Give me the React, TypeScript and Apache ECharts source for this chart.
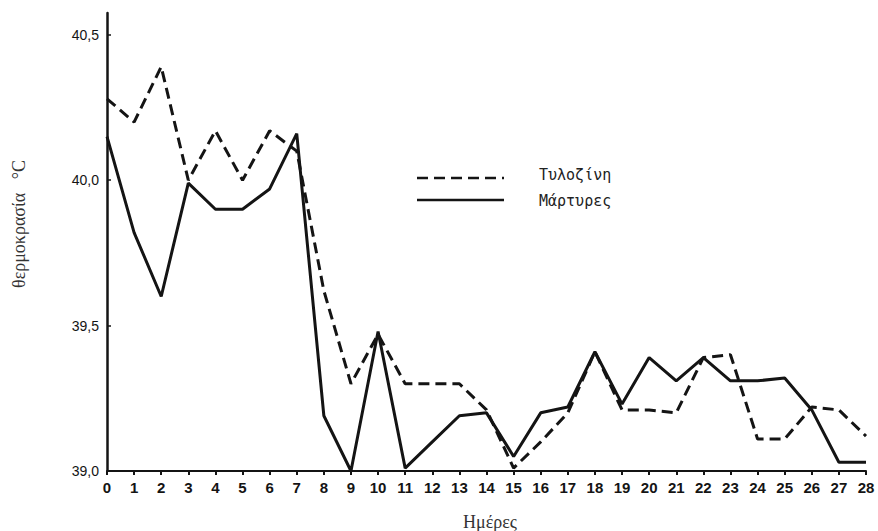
import React, { useEffect, useRef } from "react";
import * as echarts from "echarts";

const days = ["0","1","2","3","4","5","6","7","8","9","10","11","12","13","14","15","16","17","18","19","20","21","22","23","24","25","26","27","28"];
const tylosin = [40.28,40.2,40.39,40.0,40.17,40.0,40.17,40.1,39.62,39.3,39.47,39.3,39.3,39.3,39.21,39.01,39.1,39.2,39.41,39.21,39.21,39.2,39.39,39.4,39.11,39.11,39.22,39.21,39.12];
const control = [40.15,39.82,39.6,39.99,39.9,39.9,39.97,40.16,39.19,39.0,39.48,39.01,39.1,39.19,39.2,39.05,39.2,39.22,39.41,39.23,39.39,39.31,39.39,39.31,39.31,39.32,39.21,39.03,39.03];
const yTicks = [39.0, 39.5, 40.0, 40.5];
const legendNames = ["Τυλοζίνη", "Μάρτυρες"];
const xName = "Ημέρες";
const yName = "θερμοκρασία   °C";

export default function App() {
  const ref = useRef<HTMLDivElement>(null);
  useEffect(() => {
    const chart = echarts.init(ref.current!, null, { renderer: "svg" });
    const ink = "#141414";
    chart.setOption({
      animation: false,
      backgroundColor: "#fff",
      grid: { left: 107, right: 12, top: 13, bottom: 60 },
      xAxis: {
        type: "category",
        data: days,
        boundaryGap: false,
        axisLine: { lineStyle: { color: ink, width: 2 } },
        axisTick: { show: true, length: 4, lineStyle: { color: ink, width: 2 } },
        axisLabel: { color: ink, fontFamily: "Liberation Sans", fontWeight: "bold", fontSize: 15, margin: 9 },
        splitLine: { show: false },
      },
      yAxis: {
        type: "value",
        min: 39,
        max: 40.575,
        axisLine: { show: true, lineStyle: { color: ink, width: 2.5 } },
        axisTick: { show: true, inside: true, length: 4, customValues: yTicks, lineStyle: { color: ink, width: 1.5 } },
        axisLabel: {
          color: ink, fontFamily: "Liberation Sans", fontSize: 14, margin: 8,
          customValues: yTicks,
          formatter: (v: number) => v.toFixed(1).replace(".", ","),
        },
        splitLine: { show: false },
      },
      series: [
        {
          name: legendNames[0], type: "line", data: tylosin, symbol: "none",
          lineStyle: { color: ink, width: 3, type: [11, 6] },
        },
        {
          name: legendNames[1], type: "line", data: control, symbol: "none",
          lineStyle: { color: ink, width: 3 },
        },
      ],
      graphic: [
        { type: "line", shape: { x1: 417, y1: 178, x2: 504, y2: 178 }, style: { stroke: ink, lineWidth: 2.5, lineDash: [11, 6] } },
        { type: "line", shape: { x1: 417, y1: 200, x2: 504, y2: 200 }, style: { stroke: ink, lineWidth: 2.5 } },
        { type: "text", x: 539, y: 175, style: { text: legendNames[0], font: "15px 'DejaVu Sans Mono'", fill: "#222", textVerticalAlign: "middle" } },
        { type: "text", x: 539, y: 201, style: { text: legendNames[1], font: "15px 'DejaVu Sans Mono'", fill: "#222", textVerticalAlign: "middle" } },
        { type: "text", x: 490, y: 522, style: { text: xName, font: "18px 'Liberation Serif'", fill: "#333", textAlign: "center", textVerticalAlign: "middle" } },
        { type: "text", x: 19, y: 224, rotation: Math.PI / 2, style: { text: yName, font: "18px 'Liberation Serif'", fill: "#333", textAlign: "center", textVerticalAlign: "middle" } },
      ],
    });
    return () => chart.dispose();
  }, []);
  return <div ref={ref} style={{ position: "absolute", left: 0, top: 0, width: 878, height: 531 }} />;
}
